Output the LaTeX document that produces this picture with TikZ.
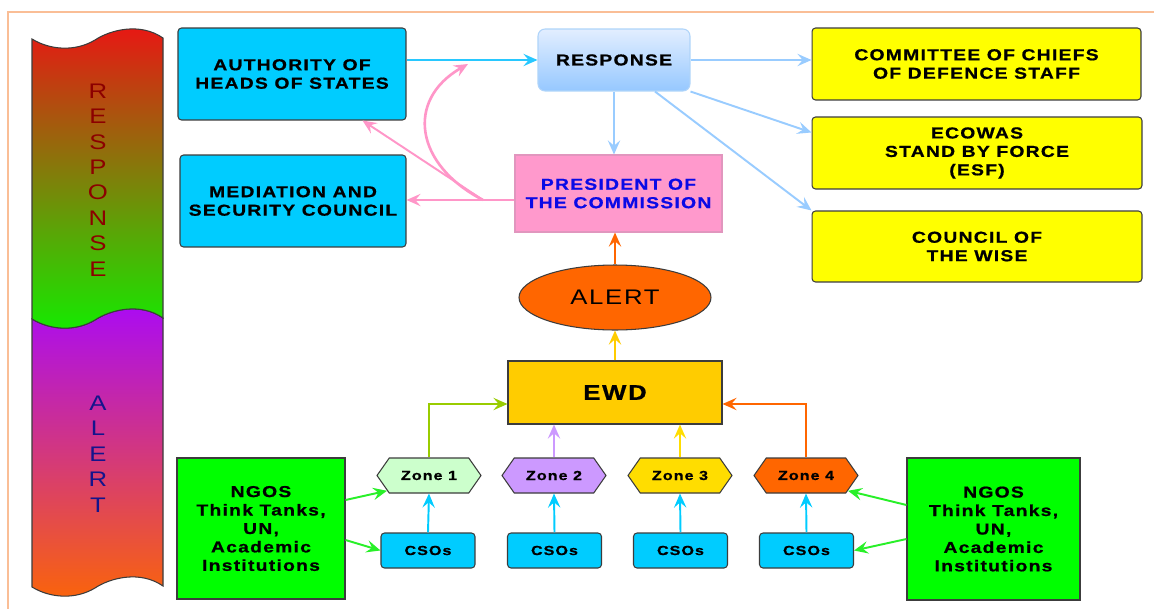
\documentclass[tikz,border=0pt]{standalone}
\usepackage{fontspec}
\setmainfont{Liberation Sans}
\newfontfamily\boxfont{Liberation Sans}[FakeStretch=1.22,LetterSpace=8,BoldFeatures={FakeBold=0.8}]
\usetikzlibrary{positioning, arrows.meta, shapes.geometric, shapes.symbols, calc}

% colours
\definecolor{framepeach}{RGB}{250,190,150}
\definecolor{boxline}{RGB}{60,60,60}
\definecolor{boxcyan}{RGB}{0,204,255}
\definecolor{resptop}{RGB}{226,238,255}
\definecolor{respbottom}{RGB}{150,200,255}
\definecolor{respline}{RGB}{175,212,250}
\definecolor{prespink}{RGB}{255,153,204}
\definecolor{presline}{RGB}{225,150,190}
\definecolor{presblue}{RGB}{10,10,230}
\definecolor{boxyellow}{RGB}{255,255,0}
\definecolor{ewdgold}{RGB}{255,204,0}
\definecolor{alertorange}{RGB}{255,102,0}
\definecolor{zoneone}{RGB}{204,255,204}
\definecolor{zonetwo}{RGB}{204,153,255}
\definecolor{zonethree}{RGB}{255,221,0}
\definecolor{ngogreen}{RGB}{0,255,0}
\definecolor{arrowcyan}{RGB}{40,200,255}
\definecolor{arrowblue}{RGB}{153,204,255}
\definecolor{arrowpink}{RGB}{255,150,200}
\definecolor{arrowlime}{RGB}{153,204,0}
\definecolor{arrowgreen}{RGB}{40,240,40}
\definecolor{ribbonred}{RGB}{235,20,20}
\definecolor{ribbongreen}{RGB}{20,235,0}
\definecolor{ribbonpurple}{RGB}{170,10,245}
\definecolor{ribbonorange}{RGB}{250,100,10}
\definecolor{respred}{RGB}{140,0,0}
\definecolor{alertnavy}{RGB}{20,20,140}

\begin{document}
\begin{tikzpicture}[x=0.02cm, y=-0.02cm,
	box/.style={draw=boxline, line width=0.6pt, rounded corners=2pt, align=center, inner sep=0pt,
		font={\boxfont\bfseries\fontsize{9}{10.5}\selectfont}},
	smallbox/.style={box, minimum width=1.88cm, minimum height=0.7cm, fill=boxcyan,
		font={\boxfont\bfseries\fontsize{7.5}{8}\selectfont}},
	zone/.style={signal, signal to=east and west, signal pointer angle=110, draw=boxline,
		line width=0.6pt, inner sep=0pt, minimum width=2.08cm, minimum height=0.7cm,
		font={\boxfont\bfseries\fontsize{7.5}{8}\selectfont}},
	ngobox/.style={box, rounded corners=0pt, fill=ngogreen},
	tag/.style={align=center, font={\boxfont\fontsize{12}{14.5}\selectfont}},
	arr/.style={-{Stealth[length=8pt, width=7pt, inset=3pt]}, line width=1.1pt}]

	% page and frame
	\fill[white] (0,0) rectangle (1154,609);
	\useasboundingbox (0,0) rectangle (1154,609);
	\draw[framepeach, line width=1pt] (8,609) -- (8,12) -- (1154,12);

	% ribbon on the left
	\shadedraw[draw=boxline, line width=0.6pt, top color=ribbonpurple, bottom color=ribbonorange]
		(32,319) .. controls (50,330) and (75,332) .. (95,320)
		.. controls (110,310) and (140,302) .. (163,318) -- (163,586)
		.. controls (140,570) and (110,578) .. (95,588)
		.. controls (75,600) and (50,598) .. (32,587) -- cycle;
	\shadedraw[draw=boxline, line width=0.6pt, top color=ribbonred, bottom color=ribbongreen]
		(32,39) .. controls (50,50) and (75,52) .. (95,40)
		.. controls (110,30) and (140,22) .. (163,38) -- (163,318)
		.. controls (140,302) and (110,310) .. (95,320)
		.. controls (75,332) and (50,330) .. (32,319) -- cycle;
	\node[tag, text=respred] (resptag) at (98,180) {R\\E\\S\\P\\O\\N\\S\\E};
	\node[tag, text=alertnavy] (alerttag) at (98,454) {A\\L\\E\\R\\T};

	% response side
	\node[box, fill=boxcyan, minimum width=4.56cm, minimum height=1.84cm] (auth) at (292,74) {AUTHORITY OF\\HEADS OF STATES};
	\node[box, fill=boxcyan, minimum width=4.52cm, minimum height=1.84cm] (med) at (293,201) {MEDIATION AND\\SECURITY COUNCIL};
	\node[box, draw=respline, rounded corners=4pt, top color=resptop, bottom color=respbottom,
		minimum width=3.04cm, minimum height=1.24cm] (resp) at (614,60) {RESPONSE};
	\node[box, draw=presline, rounded corners=0pt, fill=prespink, text=presblue,
		minimum width=4.14cm, minimum height=1.54cm] (pres) at (618.5,193.5) {PRESIDENT OF\\THE COMMISSION};
	\node[box, fill=boxyellow, minimum width=6.58cm, minimum height=1.44cm] (ccds) at (976.5,64) {COMMITTEE OF CHIEFS\\OF DEFENCE STAFF};
	\node[box, fill=boxyellow, minimum width=6.6cm, minimum height=1.44cm] (esf) at (977,153) {ECOWAS\\STAND BY FORCE\\(ESF)};
	\node[box, fill=boxyellow, minimum width=6.6cm, minimum height=1.42cm] (wise) at (977,246.5) {COUNCIL OF\\THE WISE};

	% alert side
	\node[ellipse, draw=boxline, line width=0.6pt, fill=alertorange, inner sep=0pt,
		minimum width=3.84cm, minimum height=1.3cm, font={\boxfont\fontsize{12}{14}\selectfont}] (alert) at (615,297.5) {ALERT};
	\node[box, rounded corners=0pt, fill=ewdgold, minimum width=4.28cm, minimum height=1.26cm,
		font={\boxfont\bfseries\fontsize{12}{14}\selectfont}] (ewd) at (615,392.5) {EWD};

	\node[zone, fill=zoneone] (z1) at (429,475.5) {Zone 1};
	\node[zone, fill=zonetwo] (z2) at (554,475.5) {Zone 2};
	\node[zone, fill=zonethree] (z3) at (680,475.5) {Zone 3};
	\node[zone, fill=alertorange] (z4) at (806,475.5) {Zone 4};

	\node[smallbox] (c1) at (428,550.5) {CSOs};
	\node[smallbox] (c2) at (554.5,550.5) {CSOs};
	\node[smallbox] (c3) at (680.5,550.5) {CSOs};
	\node[smallbox] (c4) at (806.5,550.5) {CSOs};

	\node[ngobox, minimum width=3.36cm, minimum height=2.82cm] (ngl) at (261,528.5) {NGOS\\Think Tanks,\\UN,\\Academic\\Institutions};
	\node[ngobox, minimum width=3.46cm, minimum height=2.84cm] (ngr) at (993.5,529) {NGOS\\Think Tanks,\\UN,\\Academic\\Institutions};

	% response arrows
	\draw[arr, arrowcyan] (resp.west -| auth.east) -- (resp.west);
	\draw[arr, arrowblue] (resp.east) -- (resp.east -| ccds.west);
	\draw[arr, arrowblue] (resp.south east) -- ([yshift=-0.32cm]esf.north west);
	\draw[arr, arrowblue] ([xshift=0.82cm]resp.south) -- (wise.north west);
	\draw[arr, arrowblue] (resp.south) -- (resp.south |- pres.north);

	% president arrows
	\coordinate (split) at (483,200);
	\coordinate (loopend) at (468,64);
	\draw[arr, arrowpink] (split -| pres.west) -- (split -| med.east);
	\draw[arr, arrowpink] (split) -- ([xshift=-0.88cm]auth.south east);
	\draw[arr, arrowpink, line width=1.5pt] (split) .. controls (415,165) and (405,100) .. (loopend);

	% alert arrows
	\draw[arr, alertorange] (alert.north) -- (alert.north |- pres.south);
	\draw[arr, ewdgold] (ewd.north) -- (alert.south);
	\draw[arr, arrowlime] (z1.north) |- ([yshift=-0.23cm]ewd.west);
	\draw[arr, zonetwo] (z2.north) -- (z2.north |- ewd.south);
	\draw[arr, zonethree] (z3.north) -- (z3.north |- ewd.south);
	\draw[arr, alertorange] (z4.north) |- ([yshift=-0.23cm]ewd.east);

	% CSOs to zones
	\draw[arr, boxcyan] (c1.north) -- (z1.south);
	\draw[arr, boxcyan] (c2.north) -- (z2.south);
	\draw[arr, boxcyan] (c3.north) -- (z3.south);
	\draw[arr, boxcyan] (c4.north) -- (z4.south);

	% NGOS arrows
	\draw[arr, arrowgreen] ([yshift=0.57cm]ngl.east) -- (z1.200);
	\draw[arr, arrowgreen] ([yshift=-0.23cm]ngl.east) -- (c1.west);
	\draw[arr, arrowgreen] ([yshift=0.48cm]ngr.west) -- (z4.-20);
	\draw[arr, arrowgreen] ([yshift=-0.2cm]ngr.west) -- (c4.east);

\end{tikzpicture}
\end{document}
